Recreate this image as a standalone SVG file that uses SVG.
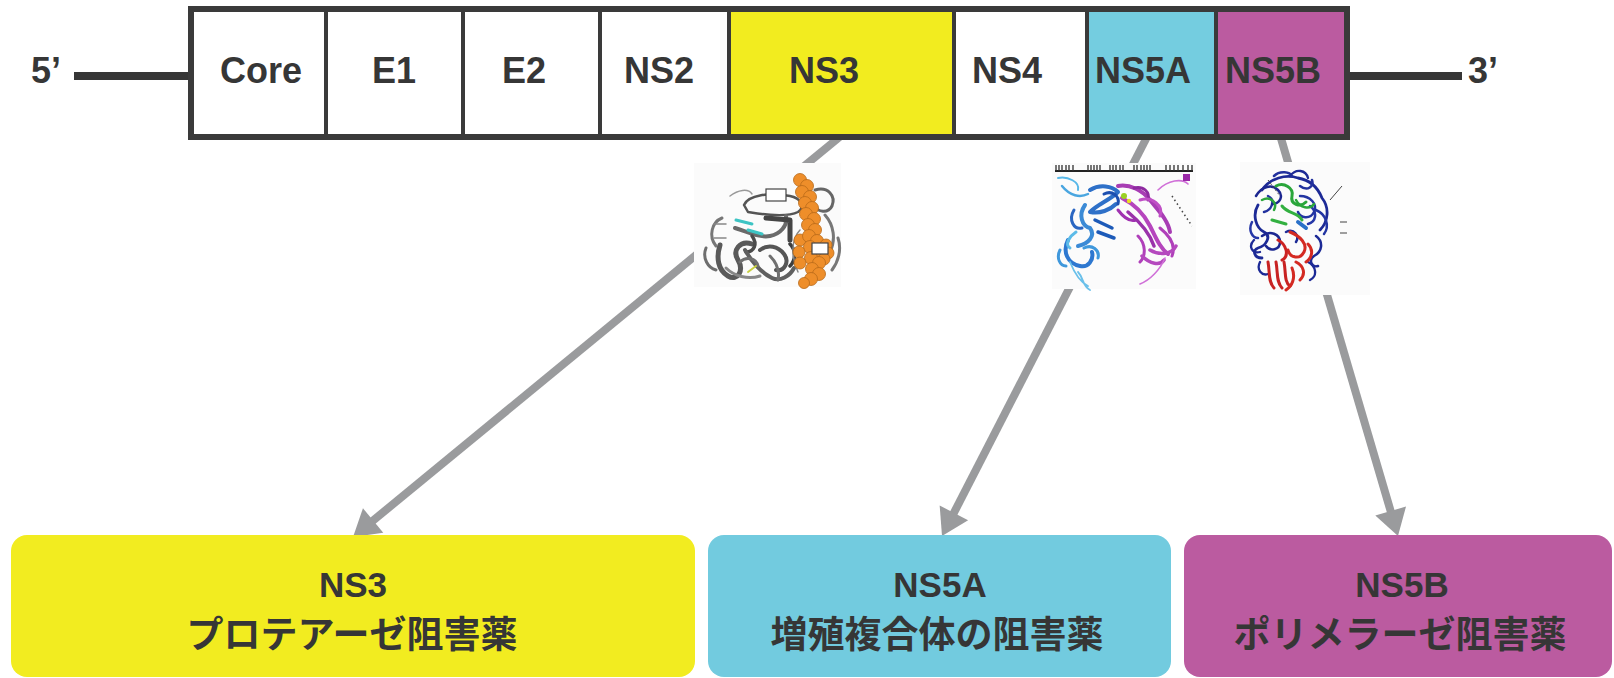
<svg xmlns="http://www.w3.org/2000/svg" width="1614" height="678" viewBox="0 0 1614 678">
  <defs>
    <style>
      .cell { stroke: #3a3a3a; stroke-width: 4; }
      .frame { fill: none; stroke: #3a3a3a; stroke-width: 6; }
      .lbl { font-family: "Liberation Sans", Arial, sans-serif; font-weight: bold; font-size: 36px; fill: #363636; text-anchor: middle; }
      .end { font-family: "Liberation Sans", Arial, sans-serif; font-weight: bold; font-size: 36px; fill: #363636; }
      .strand { fill: #363636; }
      .box-t { font-family: "Liberation Sans", "Noto Sans CJK JP", sans-serif; font-weight: bold; font-size: 35px; fill: #363636; text-anchor: middle; }
      .box-j { font-family: "Noto Sans CJK JP", "Noto Sans CJK SC", sans-serif; font-weight: 700; font-size: 37px; fill: #363636; text-anchor: middle; }
      .link { stroke: #9a9b9d; stroke-width: 8; fill: none; marker-end: url(#head); }
      .rib { fill: none; stroke-linecap: round; stroke-linejoin: round; }
    </style>
    <marker id="head" markerUnits="userSpaceOnUse" viewBox="-16 -17 30 34" refX="0" refY="0" markerWidth="30" markerHeight="34" orient="auto">
      <path d="M12,0 L-14,-16 L-14,16 Z" fill="#9a9b9d"/>
    </marker>
    <filter id="soft" x="-5%" y="-5%" width="110%" height="110%">
      <feGaussianBlur stdDeviation="0.6"/>
    </filter>
  </defs>

  <rect width="1614" height="678" fill="#ffffff"/>

  <!-- connectors: genome segment -> structure -> drug class -->
  <g id="connectors">
    <line class="link" x1="842" y1="135" x2="362.3" y2="529.4"/>
    <line class="link" x1="1148" y1="135" x2="947.5" y2="525.3"/>
    <line class="link" x1="1280" y1="135" x2="1394.6" y2="524.5"/>
  </g>

  <!-- 5' / 3' untranslated ends -->
  <g id="utr5">
    <rect class="strand" x="74" y="72" width="116" height="8"/>
    <text class="end" x="31" y="83">5’</text>
  </g>
  <g id="utr3">
    <rect class="strand" x="1348" y="72" width="114" height="8"/>
    <text class="end" x="1468" y="83">3’</text>
  </g>

  <!-- polyprotein segments -->
  <g id="genome">
    <g id="seg-core"><rect class="cell" x="191" y="9" width="135" height="128" fill="#ffffff"/><text class="lbl" x="261" y="83">Core</text></g>
    <g id="seg-e1"><rect class="cell" x="326" y="9" width="137" height="128" fill="#ffffff"/><text class="lbl" x="394" y="83">E1</text></g>
    <g id="seg-e2"><rect class="cell" x="463" y="9" width="137" height="128" fill="#ffffff"/><text class="lbl" x="524" y="83">E2</text></g>
    <g id="seg-ns2"><rect class="cell" x="600" y="9" width="129" height="128" fill="#ffffff"/><text class="lbl" x="659" y="83">NS2</text></g>
    <g id="seg-ns3"><rect class="cell" x="729" y="9" width="225" height="128" fill="#f2ec1f"/><text class="lbl" x="824" y="83">NS3</text></g>
    <g id="seg-ns4"><rect class="cell" x="954" y="9" width="133" height="128" fill="#ffffff"/><text class="lbl" x="1007" y="83">NS4</text></g>
    <g id="seg-ns5a"><rect class="cell" x="1087" y="9" width="129" height="128" fill="#74cde0"/><text class="lbl" x="1143" y="83">NS5A</text></g>
    <g id="seg-ns5b"><rect class="cell" x="1216" y="9" width="131" height="128" fill="#bb5ba0"/><text class="lbl" x="1273" y="83">NS5B</text></g>
    <rect class="frame" x="191" y="9" width="1156" height="128"/>
  </g>

  <!-- NS3 protease structure: grey ribbon with orange space-filling inhibitor -->
  <g id="ns3-structure">
    <rect x="694" y="163" width="147" height="124" fill="#fbfbfb"/>
    <g filter="url(#soft)">
      <path class="rib" d="M744,205 C748,195 770,192 790,196 C800,198 806,206 798,212 C786,218 760,214 748,212 Z" fill="#ffffff" stroke="#555" stroke-width="2.5"/>
      <path class="rib" d="M815,190 C828,186 836,196 832,206 C828,214 818,212 814,206" stroke="#666" stroke-width="3"/>
      <path class="rib" d="M730,196 C738,190 748,188 752,194" stroke="#999" stroke-width="1.5"/>
      <path class="rib" d="M722,218 C712,222 708,236 716,246" stroke="#777" stroke-width="3"/>
      <path class="rib" d="M720,245 C716,258 718,270 728,276 C738,282 744,270 738,260 C732,250 740,240 752,244" stroke="#5a5a5a" stroke-width="5"/>
      <path class="rib" d="M706,248 C702,258 708,268 716,270" stroke="#6e6e6e" stroke-width="3"/>
      <path class="rib" d="M735,228 C748,232 760,238 770,236 C780,234 788,226 786,216" stroke="#6a6a6a" stroke-width="4"/>
      <path class="rib" d="M752,236 C758,244 754,252 746,252" stroke="#4c4c4c" stroke-width="3.5"/>
      <path class="rib" d="M745,250 C752,262 760,272 772,278 C780,282 790,276 794,268" stroke="#606060" stroke-width="4"/>
      <path class="rib" d="M760,250 C768,244 778,246 784,254 C790,262 784,272 776,270" stroke="#555" stroke-width="4"/>
      <path class="rib" d="M740,262 C746,256 756,258 758,266 M770,256 C776,262 780,270 778,280" stroke="#707070" stroke-width="3"/>
      <path class="rib" d="M790,244 C796,250 796,260 790,266" stroke="#3e3e3e" stroke-width="3.5"/>
      <path class="rib" d="M726,268 C734,276 748,280 760,276" stroke="#888" stroke-width="3"/>
      <path class="rib" d="M766,218 L790,220 L790,240" stroke="#444" stroke-width="5"/>
      <path class="rib" d="M825,215 C834,225 836,240 830,252 M838,238 C842,250 838,262 832,270" stroke="#777" stroke-width="3"/>
      <path class="rib" d="M800,230 C790,240 792,258 798,272" stroke="#888" stroke-width="1.5"/>
      <path class="rib" d="M736,220 L752,224 M748,230 l14,4" stroke="#3cc4c4" stroke-width="3"/>
      <path class="rib" d="M748,272 l8,-6" stroke="#c8d040" stroke-width="2"/>
      <path class="rib" d="M714,224 h12 M714,238 h12" stroke="#888" stroke-width="1.5"/>
      <rect x="766" y="189" width="20" height="12" fill="#fff" stroke="#444" stroke-width="1.2"/>
      <g fill="#ee8e2c" stroke="#b86a18" stroke-width="0.8">
        <circle cx="800" cy="180" r="6.5"/><circle cx="807" cy="186" r="6.5"/>
        <circle cx="802" cy="192" r="6.5"/><circle cx="810" cy="197" r="6.5"/>
        <circle cx="805" cy="203" r="6.5"/><circle cx="812" cy="208" r="6.5"/>
        <circle cx="806" cy="214" r="6.5"/><circle cx="814" cy="219" r="6.5"/>
        <circle cx="808" cy="225" r="6.5"/><circle cx="815" cy="230" r="6.5"/>
        <circle cx="800" cy="240" r="6"/><circle cx="809" cy="236" r="6.5"/>
        <circle cx="817" cy="241" r="6.5"/><circle cx="826" cy="245" r="6"/>
        <circle cx="810" cy="247" r="6.5"/><circle cx="828" cy="253" r="6"/>
        <circle cx="818" cy="252" r="6.5"/><circle cx="799" cy="252" r="6"/>
        <circle cx="811" cy="258" r="6.5"/><circle cx="824" cy="259" r="6"/>
        <circle cx="800" cy="263" r="6"/><circle cx="819" cy="263" r="6.5"/>
        <circle cx="812" cy="269" r="6.5"/><circle cx="819" cy="274" r="6.5"/>
        <circle cx="811" cy="279" r="6.5"/><circle cx="804" cy="283" r="5.5"/>
      </g>
      <rect x="812" y="243" width="16" height="11" fill="#fff" stroke="#444" stroke-width="1.2"/>
    </g>
  </g>

  <!-- NS5A dimer: blue and magenta ribbons under a residue ruler -->
  <g id="ns5a-structure">
    <rect x="1052" y="163" width="144" height="126" fill="#fbfbfb"/>
    <g filter="url(#soft)">
      <path d="M1055,171 H1193" stroke="#222" stroke-width="2"/>
      <path d="M1056,165 v6 M1059,165 v6 M1062,165 v6 M1066,165 v6 M1069,165 v6 M1073,165 v6 M1088,165 v6 M1091,165 v6 M1094,165 v6 M1097,165 v6 M1100,165 v6 M1110,165 v6 M1113,165 v6 M1116,165 v6 M1120,165 v6 M1123,165 v6 M1134,165 v6 M1137,165 v6 M1141,165 v6 M1144,165 v6 M1147,165 v6 M1150,165 v6 M1166,165 v6 M1170,165 v6 M1174,165 v6 M1178,165 v6 M1183,165 v6 M1188,165 v6 M1192,165 v6" stroke="#333" stroke-width="1.3"/>
      <path class="rib" d="M1058,178 C1068,176 1080,182 1078,190" stroke="#58b8e8" stroke-width="2"/>
      <path class="rib" d="M1062,186 C1070,196 1080,198 1088,194" stroke="#4aa6e0" stroke-width="2.5"/>
      <path class="rib" d="M1090,190 C1100,184 1112,186 1118,192 C1110,200 1098,204 1090,212 C1100,214 1110,210 1116,204" stroke="#2d6fc8" stroke-width="4"/>
      <path class="rib" d="M1085,205 C1078,215 1082,226 1090,228 C1096,236 1088,244 1078,246" stroke="#3a8ad6" stroke-width="4"/>
      <path class="rib" d="M1074,210 C1068,220 1074,230 1082,228" stroke="#2a66c2" stroke-width="3"/>
      <path class="rib" d="M1068,240 C1062,252 1068,264 1080,266 C1088,268 1094,260 1092,252" stroke="#2d78d0" stroke-width="4"/>
      <path class="rib" d="M1060,250 C1056,258 1060,266 1066,266 M1084,248 C1092,244 1100,250 1098,258" stroke="#3f98dc" stroke-width="3"/>
      <path class="rib" d="M1076,232 C1070,236 1064,244 1070,248" stroke="#5bbbe8" stroke-width="3"/>
      <path class="rib" d="M1070,262 C1074,272 1080,282 1088,286 M1078,272 C1084,278 1082,286 1090,290" stroke="#6ac0ea" stroke-width="1.8"/>
      <path class="rib" d="M1095,220 L1112,228 M1098,232 L1114,238" stroke="#1f5ab8" stroke-width="3.5"/>
      <path class="rib" d="M1104,194 C1112,190 1120,196 1118,204" stroke="#1c4fb0" stroke-width="3"/>
      <path class="rib" d="M1118,186 C1130,184 1142,190 1150,200 C1158,210 1168,220 1170,232" stroke="#a83cb4" stroke-width="4"/>
      <path class="rib" d="M1134,188 C1144,186 1150,192 1148,200" stroke="#8e2aa0" stroke-width="3"/>
      <path class="rib" d="M1122,198 C1134,204 1144,214 1150,226 C1156,238 1160,248 1168,254" stroke="#b545bd" stroke-width="4"/>
      <path class="rib" d="M1118,210 C1124,218 1130,222 1136,220" stroke="#a030b0" stroke-width="3"/>
      <path class="rib" d="M1128,212 C1140,222 1150,234 1154,246" stroke="#9a30aa" stroke-width="3.5"/>
      <path class="rib" d="M1140,200 C1152,196 1164,206 1160,216" stroke="#c050c6" stroke-width="3"/>
      <path class="rib" d="M1138,236 C1146,244 1146,256 1140,262 M1160,228 C1170,236 1176,246 1172,256" stroke="#b040ba" stroke-width="3"/>
      <path class="rib" d="M1150,250 C1160,256 1172,254 1176,246 M1142,256 C1150,264 1160,266 1164,260" stroke="#b548be" stroke-width="3.5"/>
      <path class="rib" d="M1158,190 C1168,180 1182,178 1188,184 M1165,258 C1160,270 1150,280 1140,284" stroke="#d070d8" stroke-width="1.6"/>
      <rect x="1183" y="174" width="7" height="7" fill="#9a2aa8"/>
      <path d="M1172,196 L1192,226" stroke="#444" stroke-width="1.5" stroke-dasharray="1.5 3"/>
      <circle cx="1124" cy="196" r="3" fill="#9ad020"/>
      <circle cx="1129" cy="201" r="2.2" fill="#e8e020"/>
    </g>
  </g>

  <!-- NS5B polymerase: blue/green/red domain ribbons -->
  <g id="ns5b-structure">
    <rect x="1240" y="162" width="130" height="133" fill="#fbfbfb"/>
    <g filter="url(#soft)">
      <path class="rib" d="M1262,190 C1270,178 1286,174 1298,178 C1310,180 1318,188 1322,198 C1330,208 1328,222 1320,230" stroke="#1e2a96" stroke-width="2.8"/>
      <path class="rib" d="M1258,205 C1252,215 1256,228 1264,232 C1272,236 1266,246 1258,248 C1252,250 1254,258 1262,258" stroke="#1e2a96" stroke-width="2.8"/>
      <path class="rib" d="M1268,196 C1276,200 1272,210 1264,212 M1300,186 C1308,192 1314,186 1312,180 M1274,176 C1280,170 1290,172 1292,176" stroke="#23309e" stroke-width="2.5"/>
      <path class="rib" d="M1316,236 C1324,242 1322,252 1314,256 C1308,260 1312,268 1318,266 M1286,232 C1294,228 1300,236 1296,242" stroke="#1e2a96" stroke-width="2.5"/>
      <path class="rib" d="M1310,206 C1318,212 1316,222 1308,224 M1252,222 C1248,230 1252,238 1258,238" stroke="#2838a8" stroke-width="2.5"/>
      <path class="rib" d="M1256,196 C1262,186 1272,184 1278,190 C1284,196 1280,204 1272,204 M1262,236 C1270,230 1280,234 1280,242 C1280,250 1270,252 1266,246" stroke="#1b2790" stroke-width="2.5"/>
      <path class="rib" d="M1300,196 C1310,196 1318,204 1314,212 C1310,220 1300,218 1298,212 M1316,210 C1326,214 1330,226 1324,234" stroke="#2434a2" stroke-width="2.5"/>
      <path class="rib" d="M1254,240 C1248,246 1252,254 1260,252 M1290,176 C1296,168 1306,170 1308,178 M1308,262 C1316,266 1318,276 1310,280 M1260,262 C1256,270 1262,276 1268,274" stroke="#1e2a96" stroke-width="2.3"/>
      <path class="rib" d="M1276,186 C1284,182 1294,188 1292,196 C1290,204 1300,208 1306,202" stroke="#2aa63a" stroke-width="3"/>
      <path class="rib" d="M1282,206 C1288,214 1298,212 1302,220 M1272,220 L1286,224" stroke="#33b040" stroke-width="3"/>
      <path class="rib" d="M1262,200 C1270,196 1278,202 1274,210 M1296,200 C1300,208 1310,210 1314,204" stroke="#2aa63a" stroke-width="2.5"/>
      <path class="rib" d="M1298,222 l8,6" stroke="#2a70c8" stroke-width="4"/>
      <path class="rib" d="M1290,232 C1300,236 1308,244 1304,252 C1300,260 1290,258 1288,250" stroke="#d42a22" stroke-width="3"/>
      <path class="rib" d="M1278,240 C1286,244 1290,256 1282,260" stroke="#cc2420" stroke-width="3"/>
      <path class="rib" d="M1268,262 C1270,272 1268,282 1274,288 M1276,262 C1278,272 1276,282 1282,288 M1284,262 C1286,272 1284,282 1290,286" stroke="#c82020" stroke-width="3"/>
      <path class="rib" d="M1296,262 C1304,266 1306,274 1300,280 M1308,244 C1314,250 1312,258 1306,262 M1292,268 C1296,278 1292,286 1286,290" stroke="#d42a22" stroke-width="3"/>
      <path d="M1342,186 L1330,200 M1340,222 h7 M1340,233 h7" stroke="#444" stroke-width="1"/>
      <path d="M1268,180 L1280,196" stroke="#444" stroke-width="1" stroke-dasharray="2 2"/>
    </g>
  </g>

  <!-- drug classes -->
  <g id="drug-ns3">
    <rect x="11" y="535" width="684" height="142" rx="16" fill="#f2ec20"/>
    <text class="box-t" x="353" y="597">NS3</text>
    <text class="box-j" x="352" y="648">プロテアーゼ阻害薬</text>
  </g>
  <g id="drug-ns5a">
    <rect x="708" y="535" width="463" height="142" rx="16" fill="#72cbdf"/>
    <text class="box-t" x="940" y="597">NS5A</text>
    <text class="box-j" x="937" y="648">増殖複合体の阻害薬</text>
  </g>
  <g id="drug-ns5b">
    <rect x="1184" y="535" width="428" height="142" rx="16" fill="#bb5ba0"/>
    <text class="box-t" x="1402" y="597">NS5B</text>
    <text class="box-j" x="1400" y="648">ポリメラーゼ阻害薬</text>
  </g>
</svg>
